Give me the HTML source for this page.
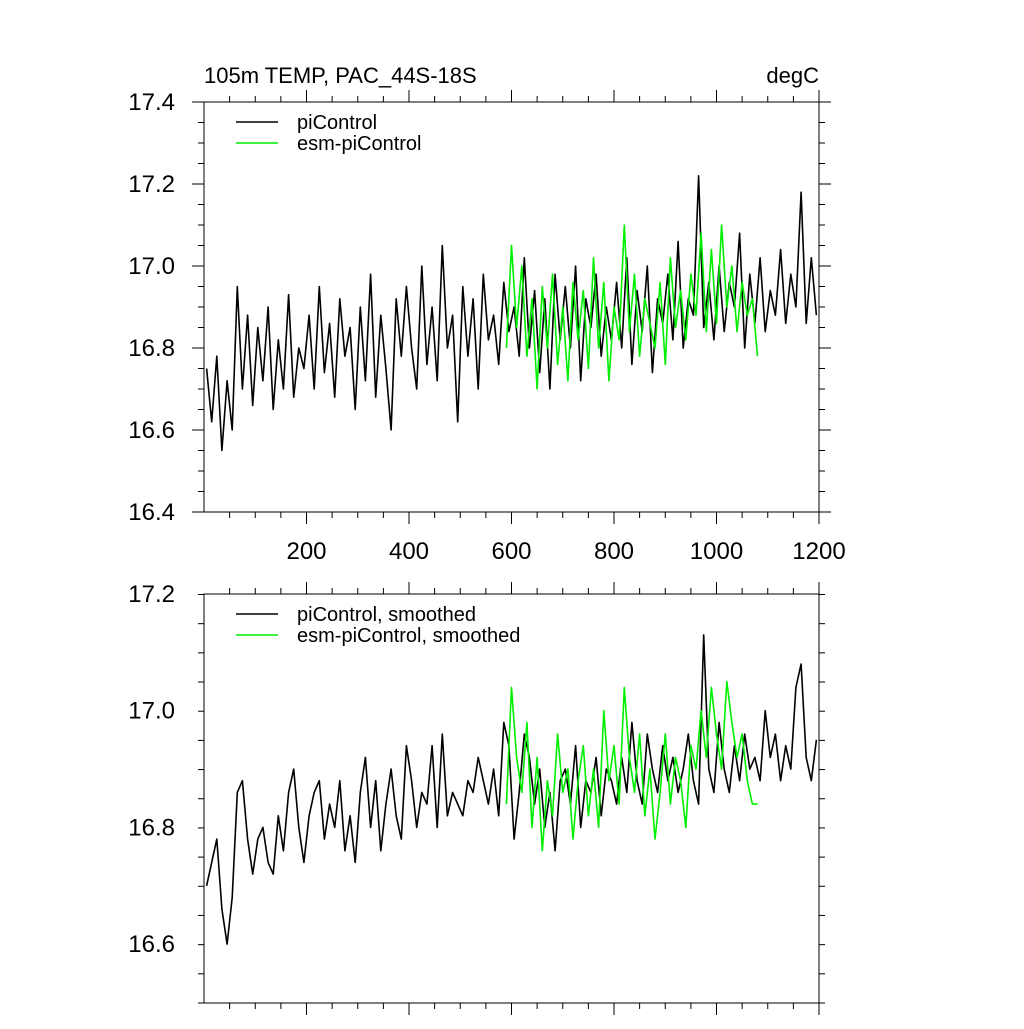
<!DOCTYPE html>
<html><head><meta charset="utf-8"><style>
body{margin:0;background:#fff}
svg text{font-family:"Liberation Sans",sans-serif;font-size:20px;fill:#000}
svg text.tick{font-size:24px}
svg text.ttl{font-size:22px}
</style></head><body>
<svg id="chart" width="1024" height="1024" viewBox="0 0 1024 1024" xmlns="http://www.w3.org/2000/svg">
<text class="ttl" x="204" y="83">105m TEMP, PAC_44S-18S</text>
<text class="ttl" x="819" y="83" text-anchor="end">degC</text>
<g id="top"></g>
<g id="bot"></g>
</svg>
<script>
const piRaw=[16.75,16.62,16.78,16.55,16.72,16.60,16.95,16.70,16.88,16.66,
16.85,16.72,16.90,16.65,16.82,16.70,16.93,16.68,16.80,16.75,
16.88,16.70,16.95,16.74,16.86,16.68,16.92,16.78,16.85,16.65,
16.90,16.72,16.98,16.68,16.88,16.75,16.60,16.92,16.78,16.95,
16.80,16.70,17.00,16.76,16.90,16.72,17.05,16.80,16.88,16.62,
16.95,16.78,16.92,16.70,16.98,16.82,16.88,16.76,16.96,16.84,
16.90,16.78,17.02,16.80,16.94,16.74,16.92,16.70,16.98,16.82,
16.95,16.80,17.00,16.72,16.92,16.85,16.98,16.78,16.90,16.82,
16.96,16.80,17.02,16.76,16.94,16.84,17.00,16.74,16.92,16.86,
16.98,16.82,17.06,16.80,16.92,16.88,17.22,16.85,16.96,16.82,
17.00,16.84,16.96,16.90,17.08,16.80,16.98,16.86,17.02,16.84,
16.94,16.88,17.04,16.86,16.98,16.90,17.18,16.86,17.02,16.88];
const esmRaw=[16.80,17.05,16.85,17.00,16.78,16.92,16.70,16.95,16.80,16.98,
16.76,16.90,16.72,16.96,16.82,16.94,16.75,17.02,16.80,16.96,
16.72,16.90,16.82,17.10,16.84,16.98,16.78,16.92,16.86,16.80,
16.96,16.76,17.02,16.85,16.94,16.82,16.98,16.88,17.08,16.84,
17.04,16.86,17.10,16.90,17.00,16.84,16.96,16.88,16.92,16.78];
const piSm=[16.70,16.74,16.78,16.66,16.60,16.68,16.86,16.88,16.78,16.72,
16.78,16.80,16.74,16.72,16.82,16.76,16.86,16.90,16.80,16.74,
16.82,16.86,16.88,16.78,16.84,16.80,16.88,16.76,16.82,16.74,
16.86,16.92,16.80,16.88,16.76,16.84,16.90,16.82,16.78,16.94,
16.88,16.80,16.86,16.84,16.94,16.80,16.96,16.82,16.86,16.84,
16.82,16.88,16.86,16.92,16.88,16.84,16.90,16.82,16.98,16.94,
16.78,16.86,16.96,16.92,16.84,16.90,16.80,16.86,16.76,16.88,
16.90,16.84,16.94,16.80,16.88,16.86,16.92,16.82,16.90,16.88,
16.84,16.92,16.86,16.98,16.88,16.84,16.96,16.90,16.86,16.94,
16.88,16.92,16.86,16.90,16.96,16.88,16.84,17.13,16.90,16.86,
16.98,16.90,16.86,16.94,16.88,16.96,16.90,16.92,16.88,17.00,
16.92,16.96,16.88,16.94,16.90,17.04,17.08,16.92,16.88,16.95];
const esmSm=[16.84,17.04,16.92,16.86,16.98,16.80,16.92,16.76,16.88,16.82,
16.96,16.86,16.90,16.78,16.88,16.94,16.82,16.90,16.80,17.00,
16.88,16.94,16.84,17.04,16.92,16.86,16.96,16.82,16.90,16.78,
16.86,16.96,16.84,16.92,16.88,16.80,16.94,16.90,17.00,16.92,
17.04,16.96,16.90,17.05,16.98,16.92,16.96,16.88,16.84,16.84];
const piStart=5, esmStart=590, step=10;
const xTicks=[200,400,600,800,1000,1200];
const topYTicks=[16.4,16.6,16.8,17.0,17.2,17.4];
const botYTicks=[16.6,16.8,17.0,17.2];
const topLegend=["piControl","esm-piControl"];
const botLegend=["piControl, smoothed","esm-piControl, smoothed"];

const NS="http://www.w3.org/2000/svg";
function mk(p,t,a){const e=document.createElementNS(NS,t);for(const k in a)e.setAttribute(k,a[k]);p.appendChild(e);return e;}
const L=204,R=819;
const xs=v=>L+(v/1200)*(R-L);
function panel(g,T,B,ymin,ymax,yt,series,legend,xlabels,pfx){
  const ys=v=>B-(v-ymin)/(ymax-ymin)*(B-T);
  const fr=mk(g,'rect',{x:L,y:T,width:R-L,height:B-T,fill:'none',stroke:'#000','stroke-width':1});
  
  
  for(let v=ymin;v<=ymax+1e-9;v+=0.05){
    const major=yt.some(t=>Math.abs(t-v)<1e-6);const len=major?12:6;const y=ys(v);
    mk(g,'line',{x1:L-len,x2:L,y1:y,y2:y,stroke:'#000'});
    mk(g,'line',{x1:R,x2:R+len,y1:y,y2:y,stroke:'#000'});
  }
  yt.forEach(v=>{const t=mk(g,'text',{x:L-29,y:ys(v)+8,'text-anchor':'end','class':'tick'});t.textContent=v.toFixed(1);
    
    });
  for(let v=50;v<=1200;v+=50){const major=v%200==0;const len=major?12:6;const x=xs(v);
    mk(g,'line',{x1:x,x2:x,y1:B,y2:B+len,stroke:'#000'});
    mk(g,'line',{x1:x,x2:x,y1:T-len,y2:T,stroke:'#000'});}
  if(xlabels)xTicks.forEach(v=>{const t=mk(g,'text',{x:xs(v),y:B+47,'text-anchor':'middle','class':'tick'});t.textContent=v;
    
    });
  series.forEach((s,i)=>{
    const pts=s.vals.map((v,j)=>xs(s.start+j*step).toFixed(1)+','+ys(v).toFixed(1)).join(' ');
    const pl=mk(g,'polyline',{points:pts,fill:'none',stroke:s.color,'stroke-width':1.6,'stroke-linejoin':'round'});
    
    
  });
  legend.forEach((txt,i)=>{const y=T+20+i*21;
    const ln=mk(g,'line',{x1:236,x2:278,y1:y,y2:y,stroke:series[i].color,'stroke-width':1.6});
    
    
    const t=mk(g,'text',{x:297,y:y+7});t.textContent=txt;
    
    });
}
panel(document.getElementById('top'),102,512,16.4,17.4,topYTicks,
 [{vals:piRaw,start:piStart,color:'#000',name:'picontrol'},{vals:esmRaw,start:esmStart,color:'#00ee00',name:'esm-picontrol'}],topLegend,true,'top');
panel(document.getElementById('bot'),594,1003,16.6-59/117*0.2,17.2,botYTicks,
 [{vals:piSm,start:piStart,color:'#000',name:'picontrol-smoothed'},{vals:esmSm,start:esmStart,color:'#00ee00',name:'esm-picontrol-smoothed'}],botLegend,false,'bottom');
</script>
</body></html>
